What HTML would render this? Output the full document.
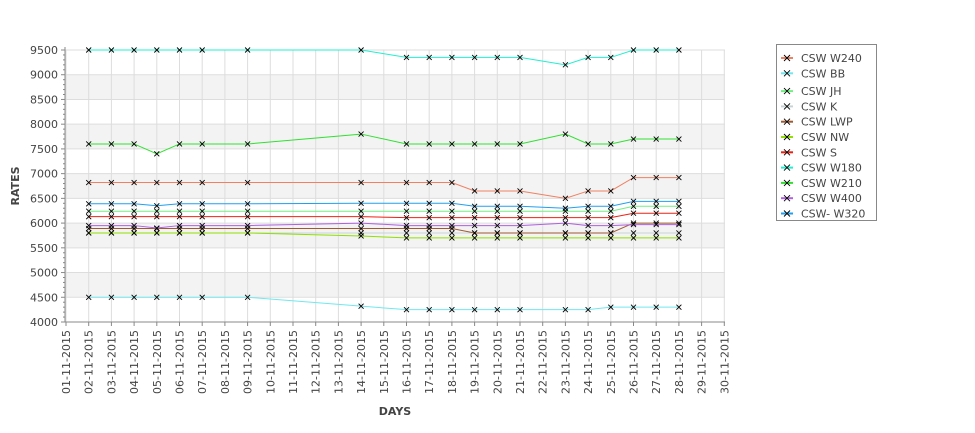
<!DOCTYPE html>
<html><head><meta charset="utf-8"><style>
body{margin:0;background:#fff;width:975px;height:429px;overflow:hidden;font-family:"DejaVu Sans","Liberation Sans",sans-serif}
svg text{font-family:"DejaVu Sans","Liberation Sans",sans-serif;fill:#444}
</style></head><body>
<svg id="c" width="975" height="429"></svg>
<script>
const days=[2,3,4,5,6,7,9,14,16,17,18,19,20,21,23,24,25,26,27,28];
const seriesNames=["CSW  W240","CSW BB","CSW JH","CSW K","CSW LWP","CSW NW","CSW S","CSW W180","CSW W210","CSW W400","CSW- W320"];
const seriesColors=["#f08060","#70e8f0","#70f080","#c8d4d4","#a05a30","#90e000","#f02010","#20f0d0","#30e030","#b060e0","#20a0f0"];
const w240=[6820,6820,6820,6820,6820,6820,6820,6820,6820,6820,6820,6650,6650,6650,6500,6650,6650,6920,6920,6920];
const bb=[4500,4500,4500,4500,4500,4500,4500,4320,4250,4250,4250,4250,4250,4250,4250,4250,4300,4300,4300,4300];
const jh=[6240,6240,6240,6240,6240,6240,6240,6240,6240,6240,6240,6240,6240,6240,6240,6240,6240,6340,6340,6340];
const k=[5800,5800,5800,5800,5800,5800,5800,5800,5800,5800,5800,5800,5800,5800,5800,5800,5800,5800,5800,5800];
const lwp=[5890,5890,5890,5890,5890,5890,5890,5890,5890,5890,5890,5800,5800,5800,5800,5800,5800,6000,6000,6000];
const nw=[5800,5800,5800,5800,5800,5800,5800,5740,5700,5700,5700,5700,5700,5700,5700,5700,5700,5700,5700,5700];
const s=[6130,6130,6130,6130,6130,6130,6130,6130,6110,6110,6110,6110,6110,6110,6110,6110,6110,6200,6200,6200];
const w180=[9500,9500,9500,9500,9500,9500,9500,9500,9350,9350,9350,9350,9350,9350,9200,9350,9350,9500,9500,9500];
const w210=[7600,7600,7600,7400,7600,7600,7600,7800,7600,7600,7600,7600,7600,7600,7800,7600,7600,7700,7700,7700];
const w400=[5950,5950,5950,5900,5950,5950,5950,6000,5950,5950,5950,5950,5950,5950,6000,5950,5950,5970,5970,5970];
const w320=[6390,6390,6390,6350,6390,6390,6390,6400,6400,6400,6400,6340,6340,6340,6300,6340,6340,6440,6440,6440];
const seriesData=[w240,bb,jh,k,lwp,nw,s,w180,w210,w400,w320];
const yTicks=[4000,4500,5000,5500,6000,6500,7000,7500,8000,8500,9000,9500];
const dayLabels=[];for(let d=1;d<=30;d++)dayLabels.push((d<10?"0":"")+d+"-11-2015");

const NS="http://www.w3.org/2000/svg",svg=document.getElementById("c");
const X0=66,DX=22.7,Y0=322,YTOP=50;
const xs=d=>X0+(d-1)*DX;
const ys=v=>Y0-(v-4000)*(Y0-YTOP)/5500;
function mk(t,a,p){const e=document.createElementNS(NS,t);for(const key in a)e.setAttribute(key,a[key]);(p||svg).appendChild(e);return e;}
for(let v=4500;v<9500;v+=1000){
 const r=mk("rect",{x:65,y:ys(v+500),width:660,height:ys(v)-ys(v+500),fill:"#f3f3f3"});
 
 
}
yTicks.forEach(v=>{const l=mk("line",{x1:65,x2:725,y1:ys(v),y2:ys(v),stroke:"#ddd"});
 
 });
dayLabels.forEach((lb,i)=>{const x=xs(i+1);
 const g=mk("line",{x1:x,x2:x,y1:YTOP,y2:Y0,stroke:"#ddd"});
 
 
 mk("line",{x1:x,x2:x,y1:Y0,y2:Y0+4,stroke:"#888"});
 const t=mk("text",{x:0,y:0,"font-size":"11","text-anchor":"end",transform:`translate(${x+4},${Y0+8}) rotate(-90)`});
 t.textContent=lb;
 
 });
mk("line",{x1:65,x2:725,y1:Y0,y2:Y0,stroke:"#888"});
mk("line",{x1:65,x2:65,y1:YTOP-3,y2:Y0,stroke:"#888"});
for(let v=4000;v<=9500;v+=100){mk("line",{x1:v%500==0?61:63,x2:65,y1:ys(v),y2:ys(v),stroke:"#888"});}
yTicks.forEach(v=>{const t=mk("text",{x:58,y:ys(v)+4,"font-size":"11","text-anchor":"end"});t.textContent=v;
 
 });
seriesData.forEach((arr,si)=>{
 const g=mk("g",{});
 
 
 mk("polyline",{points:arr.map((v,i)=>xs(days[i])+","+ys(v)).join(" "),fill:"none",stroke:seriesColors[si],"stroke-width":1},g);
 arr.forEach((v,i)=>{const x=xs(days[i]),y=ys(v);
  const p=mk("path",{d:`M${x-2.5},${y-2.5}L${x+2.5},${y+2.5}M${x-2.5},${y+2.5}L${x+2.5},${y-2.5}`,stroke:"#000","stroke-width":0.9},g);
  
  });
});
const yt=mk("text",{x:0,y:0,"font-size":"11","font-weight":"bold","text-anchor":"middle",transform:"translate(19,186) rotate(-90)"});yt.textContent="RATES";


const xt=mk("text",{x:395,y:415,"font-size":"11","font-weight":"bold","text-anchor":"middle"});xt.textContent="DAYS";


const lg=mk("g",{});


mk("rect",{x:776.5,y:44.5,width:100,height:176,fill:"#fff",stroke:"#888"},lg);
seriesNames.forEach((n,i)=>{const y=58+i*15.3+(i>=2?2.5:0);
 const e=mk("g",{},lg);
 
 
 mk("line",{x1:781,x2:793,y1:y,y2:y,stroke:seriesColors[i],"stroke-width":2},e);
 mk("path",{d:`M784,${y-3}L790,${y+3}M784,${y+3}L790,${y-3}`,stroke:"#000","stroke-width":0.9},e);
 const t=mk("text",{x:801,y:y+4,"font-size":"11"},e);t.textContent=n;});
</script>
</body></html>
